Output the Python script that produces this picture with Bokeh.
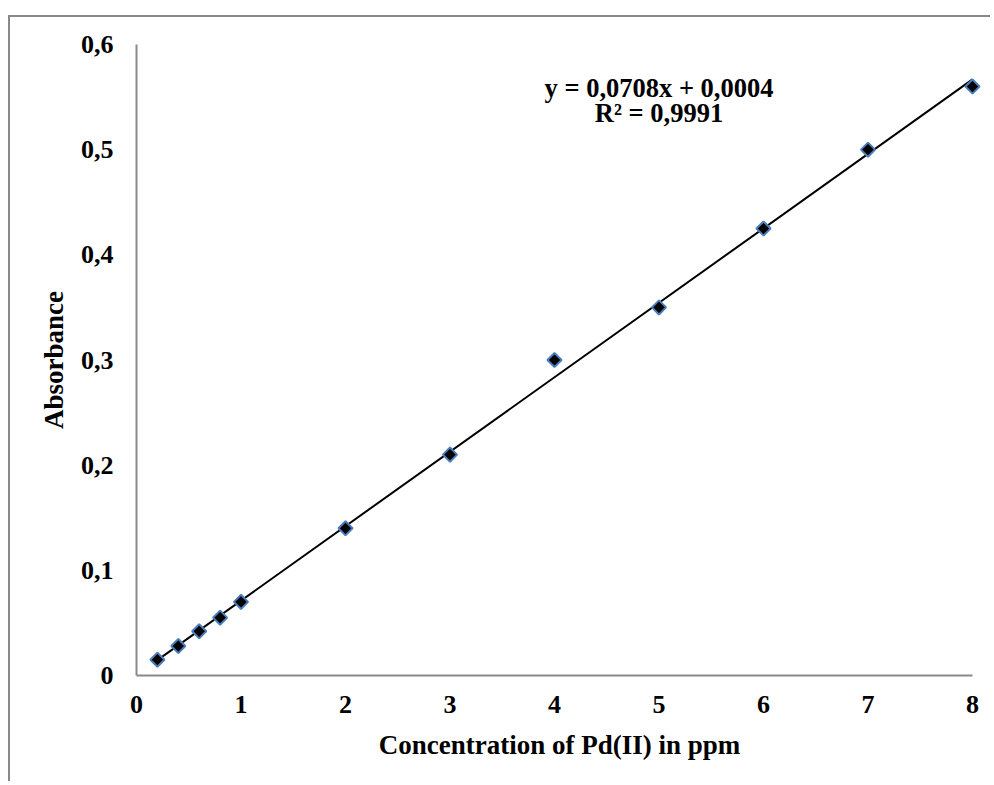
from bokeh.plotting import figure
from bokeh.models import FixedTicker, Label, ColumnDataSource
from bokeh.embed import file_html
from bokeh.resources import INLINE

# ---- data ----
conc = [0.2, 0.4, 0.6, 0.8, 1, 2, 3, 4, 5, 6, 7, 8]
absorb = [0.015, 0.028, 0.042, 0.055, 0.070, 0.140, 0.210, 0.300, 0.350, 0.425, 0.500, 0.560]
slope = 0.0708
intercept = 0.0004
r2_text = "R² = 0,9991"
eq_text = "y = 0,0708x + 0,0004"
x_ticks = [0, 1, 2, 3, 4, 5, 6, 7, 8]
x_tick_labels = ["0", "1", "2", "3", "4", "5", "6", "7", "8"]
y_ticks = [0, 0.1, 0.2, 0.3, 0.4, 0.5, 0.6]
y_tick_labels = ["0", "0,1", "0,2", "0,3", "0,4", "0,5", "0,6"]

FONT = "Liberation Serif"
GRAY = "#898989"

W, H = 982, 766
MBL, MBR = 126, 10
frame_w = W - MBL - MBR
xmax = 8 * frame_w / (972 - 136)

p = figure(width=W, height=H, output_backend="svg", toolbar_location=None,
           x_range=(0, xmax), y_range=(0, 0.6),
           min_border_left=MBL, min_border_right=MBR,
           min_border_top=27, min_border_bottom=108)
p.styles = {"border-left": f"2px solid {GRAY}", "border-top": f"2px solid {GRAY}",
            "margin-top": "15px", "margin-left": "8px", "margin-bottom": "-8px"}
p.outline_line_color = None
p.grid.visible = False
p.background_fill_color = "white"
p.border_fill_color = "white"

for ax in (p.xaxis[0], p.yaxis[0]):
    ax.axis_line_color = GRAY
    ax.axis_line_width = 2
    ax.major_tick_line_color = None
    ax.minor_tick_line_color = None
    ax.major_tick_out = 0
    ax.major_tick_in = 0
    ax.major_label_text_font = FONT
    ax.major_label_text_font_style = "bold"
    ax.major_label_text_font_size = "26px"
    ax.major_label_text_color = "black"
    ax.axis_label_text_font = FONT
    ax.axis_label_text_font_style = "bold"
    ax.axis_label_text_font_size = "27px"
    ax.axis_label_text_color = "black"

p.xaxis.ticker = FixedTicker(ticks=x_ticks)
p.xaxis.major_label_overrides = dict(zip(x_ticks, x_tick_labels))
p.xaxis.bounds = (0, 8)
p.xaxis.axis_label = "Concentration of Pd(II) in ppm"
p.xaxis.major_label_standoff = 20
p.xaxis.axis_label_standoff = 14

p.yaxis.ticker = FixedTicker(ticks=y_ticks)
p.yaxis.major_label_overrides = dict(zip(y_ticks, y_tick_labels))
p.yaxis.axis_label = "Absorbance"
p.yaxis.major_label_standoff = 23
p.yaxis.axis_label_standoff = 9

# trendline over the data range
x0, x1 = min(conc), max(conc)
p.line([x0, x1], [slope * x0 + intercept, slope * x1 + intercept],
       line_color="black", line_width=2)

src = ColumnDataSource(dict(x=conc, y=absorb))
p.scatter("x", "y", source=src, marker="square", size=10, angle=0.785398,
          fill_color="black", line_color="#4a7ebb", line_width=2)

p.add_layout(Label(x=5.0, y=0.559, text=eq_text, text_align="center",
                   text_baseline="middle", text_font=FONT, text_font_style="bold",
                   text_font_size="26.5px", text_color="black"))
p.add_layout(Label(x=5.0, y=0.535, text=r2_text, text_align="center",
                   text_baseline="middle", text_font=FONT, text_font_style="bold",
                   text_font_size="26.5px", text_color="black"))

open("out.html", "w").write(file_html(p, INLINE))
